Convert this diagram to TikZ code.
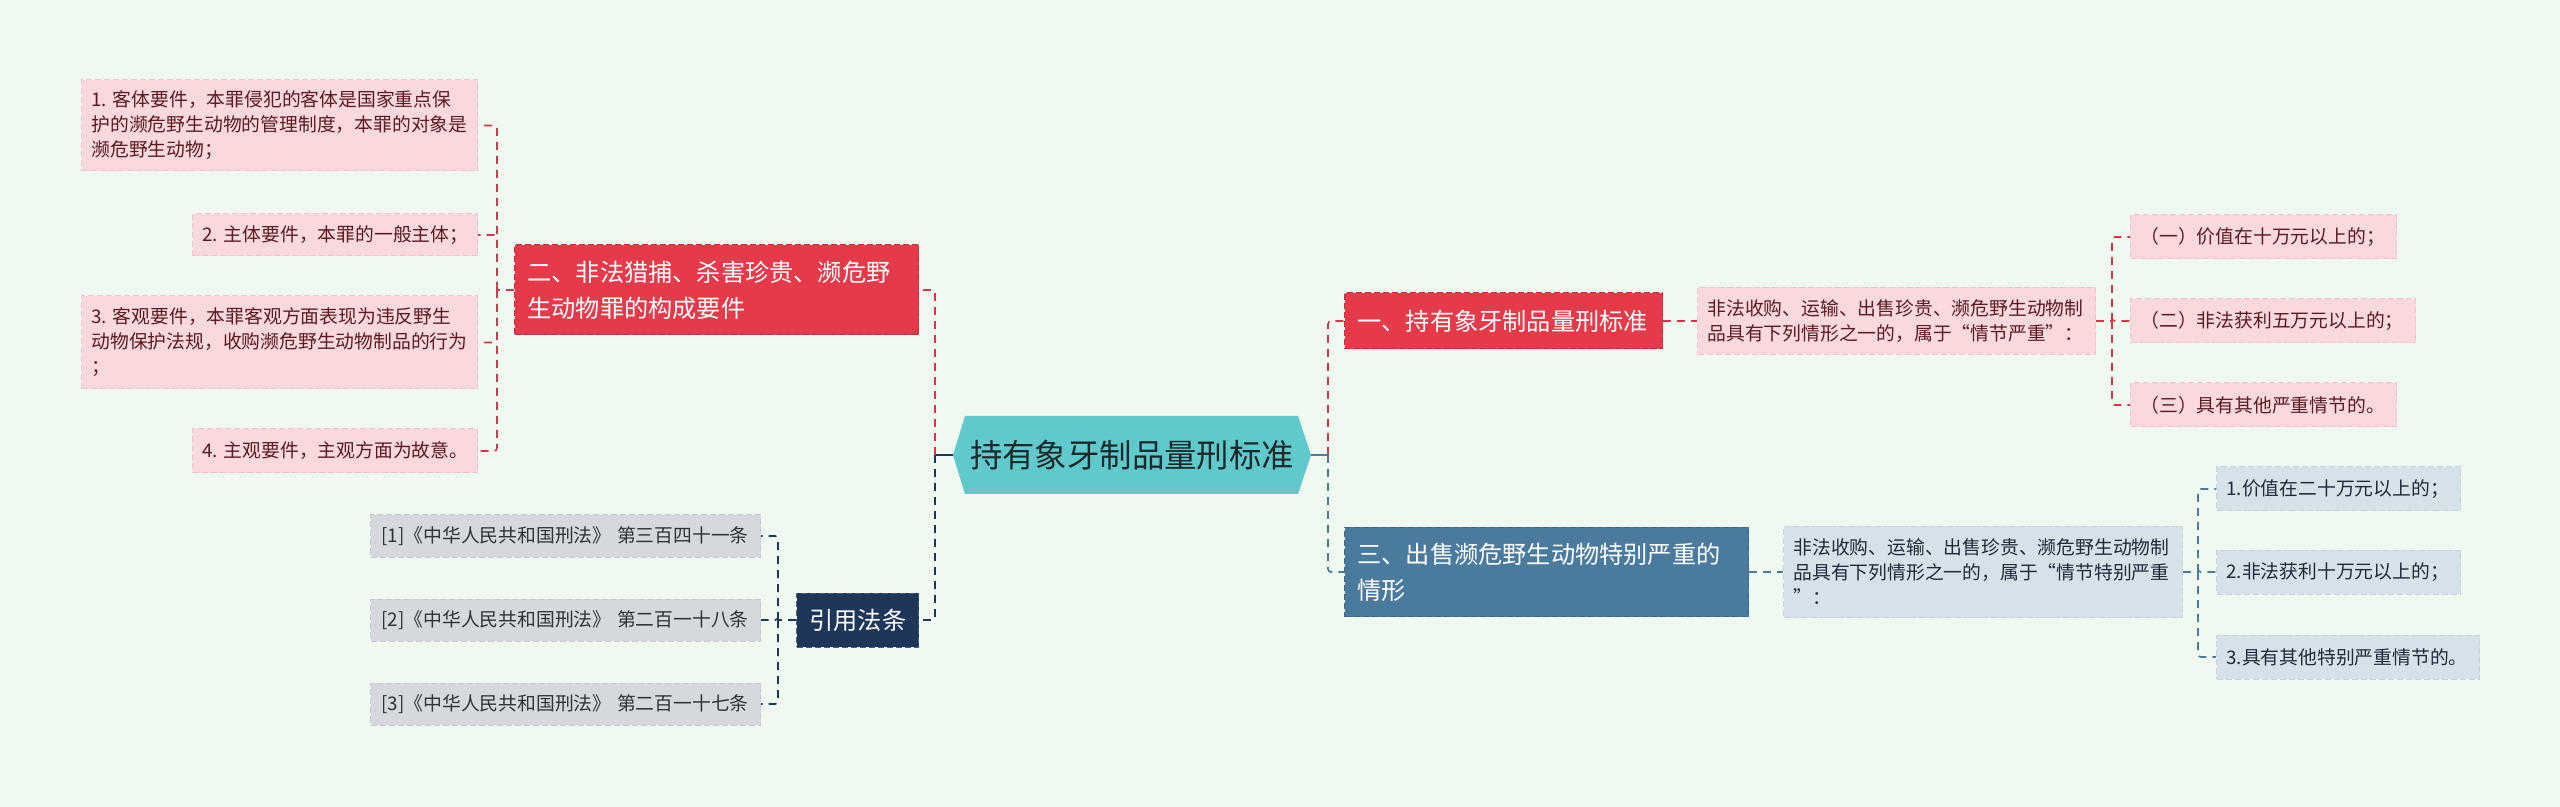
\documentclass[tikz,border=0pt]{standalone}
\usepackage{fontspec}
\newfontfamily\cjk{Noto Sans CJK SC}
\definecolor{bg}{HTML}{F0F9EF}
\definecolor{rootfill}{HTML}{60C9CB}
\definecolor{roottext}{HTML}{1C2A2E}
\definecolor{redfill}{HTML}{E43A4A}
\definecolor{redline}{HTML}{C92C3C}
\definecolor{pinkfill}{HTML}{FAD9DD}
\definecolor{pinkline}{HTML}{F2C4CA}
\definecolor{pinktext}{HTML}{5A1B22}
\definecolor{navyfill}{HTML}{1E3658}
\definecolor{grayfill}{HTML}{D5D8DD}
\definecolor{grayline}{HTML}{C6CACF}
\definecolor{graytext}{HTML}{2E3338}
\definecolor{bluefill}{HTML}{4A7B9D}
\definecolor{bluelight}{HTML}{D7E1E9}
\definecolor{bluelightline}{HTML}{C6D2DC}
\definecolor{bluetext}{HTML}{1E2C3A}
\definecolor{conred}{HTML}{D2384A}
\definecolor{connavy}{HTML}{1E3658}
\definecolor{conblue}{HTML}{4A7B9D}
\tikzset{
  base/.style={align=left, inner ysep=0pt, line width=0.5pt, dash pattern=on 3pt off 1.5pt},
  smalltext/.style={font=\cjk\fontsize{9.4}{12.5}\selectfont},
  bigtext/.style={font=\cjk\fontsize{12.1}{18}\selectfont},
  pinkleaf/.style={base, smalltext, fill=pinkfill, draw=pinkline, text=pinktext, inner xsep=5pt},
  grayleaf/.style={base, smalltext, fill=grayfill, draw=grayline, text=graytext, inner xsep=5.5pt},
  blueleaf/.style={base, smalltext, fill=bluelight, draw=bluelightline, text=bluetext, inner xsep=5pt},
  rednode/.style={base, bigtext, fill=redfill, draw=redline, text=white, inner xsep=6.5pt},
  navynode/.style={base, bigtext, fill=navyfill, draw=navyfill!80!white, text=white, inner xsep=6.5pt},
  bluenode/.style={base, bigtext, fill=bluefill, draw=bluefill!85!black, text=white, inner xsep=6.5pt},
  rootnode/.style={inner sep=0pt, minimum width=179pt, minimum height=39pt, text=roottext,
    font=\cjk\fontsize{16.2}{20}\selectfont,
    path picture={\fill[rootfill] (path picture bounding box.west)
      -- ([xshift=6pt]path picture bounding box.north west)
      -- ([xshift=-6.5pt]path picture bounding box.north east)
      -- (path picture bounding box.east)
      -- ([xshift=-6.5pt]path picture bounding box.south east)
      -- ([xshift=6pt]path picture bounding box.south west) -- cycle;}},
  con/.style={line width=0.8pt, dash pattern=on 4pt off 3pt, rounded corners=1.5pt},
  redcon/.style={con, draw=conred},
  navycon/.style={con, draw=connavy},
  bluecon/.style={con, draw=conblue},
  navysolid/.style={line width=1pt, draw=connavy},
  bluesolid/.style={line width=1pt, draw=conblue},
}
\begin{document}
\begin{tikzpicture}[x=0.5pt, y=-0.5pt]
\fill[bg] (0,0) rectangle (2560,807);
\useasboundingbox (0,0) rectangle (2560,807);

% root
\node[rootnode] (root) at (1132,455) {持有象牙制品量刑标准};

% left branch: 二
\node[rednode, anchor=west, text width=189pt, minimum height=45pt] (R2) at (514,290)
  {二、非法猎捕、杀害珍贵、濒危野\\生动物罪的构成要件};
\node[pinkleaf, anchor=east, text width=188pt, minimum height=45.5pt] (L1) at (478,125.5)
  {1.\kern0.3em客体要件，本罪侵犯的客体是国家重点保\\护的濒危野生动物的管理制度，本罪的对象是\\濒危野生动物；};
\node[pinkleaf, anchor=east, text width=132.5pt, minimum height=21pt] (L2) at (478,235)
  {2.\kern0.3em主体要件，本罪的一般主体；};
\node[pinkleaf, anchor=east, text width=188pt, minimum height=46.5pt] (L3) at (478,342.5)
  {3.\kern0.3em客观要件，本罪客观方面表现为违反野生\\动物保护法规，收购濒危野生动物制品的行为\\；};
\node[pinkleaf, anchor=east, text width=132.5pt, minimum height=22pt] (L4) at (478,451)
  {4.\kern0.3em主观要件，主观方面为故意。};

% left branch: 引用法条
\node[navynode, anchor=west, text width=48pt, minimum height=27pt] (cite) at (796,620) {引用法条};
\node[grayleaf, anchor=east, text width=184pt, minimum height=21pt] (C1) at (761,536)
  {[1]《中华人民共和国刑法》\kern0.3em第三百四十一条};
\node[grayleaf, anchor=east, text width=184pt, minimum height=21pt] (C2) at (761,620)
  {[2]《中华人民共和国刑法》\kern0.3em第二百一十八条};
\node[grayleaf, anchor=east, text width=184pt, minimum height=21pt] (C3) at (761,704)
  {[3]《中华人民共和国刑法》\kern0.3em第二百一十七条};

% right branch: 一
\node[rednode, anchor=west, text width=146pt, minimum height=28pt] (R1) at (1344,321)
  {一、持有象牙制品量刑标准};
\node[pinkleaf, anchor=west, text width=189pt, minimum height=33.5pt] (P0) at (1697,321)
  {非法收购、运输、出售珍贵、濒危野生动物制\\品具有下列情形之一的，属于“情节严重”：};
\node[pinkleaf, anchor=west, text width=123pt, minimum height=22pt] (P1) at (2130,237)
  {（一）价值在十万元以上的；};
\node[pinkleaf, anchor=west, text width=132.5pt, minimum height=22pt] (P2) at (2130,321)
  {（二）非法获利五万元以上的；};
\node[pinkleaf, anchor=west, text width=123pt, minimum height=22pt] (P3) at (2130,405)
  {（三）具有其他严重情节的。};

% right branch: 三
\node[bluenode, anchor=west, text width=189pt, minimum height=44.5pt] (B3) at (1344,572)
  {三、出售濒危野生动物特别严重的\\情形};
\node[blueleaf, anchor=west, text width=189.5pt, minimum height=45.5pt] (G0) at (1783,572)
  {非法收购、运输、出售珍贵、濒危野生动物制\\品具有下列情形之一的，属于“情节特别严重\\”：};
\node[blueleaf, anchor=west, text width=112pt, minimum height=22pt] (G1) at (2216,489)
  {1.价值在二十万元以上的；};
\node[blueleaf, anchor=west, text width=112pt, minimum height=22pt] (G2) at (2216,572)
  {2.非法获利十万元以上的；};
\node[blueleaf, anchor=west, text width=121.5pt, minimum height=22pt] (G3) at (2216,657)
  {3.具有其他特别严重情节的。};

% junctions
\coordinate (jRL) at (935,455);
\coordinate (jRR) at (1328,455);
\coordinate (jA) at (497,290);
\coordinate (jB) at (778,620);
\coordinate (jC) at (2112,321);
\coordinate (jD) at (2198,572);

% connectors
\draw[navysolid] (root.west) -- (jRL);
\draw[redcon] (jRL) |- (R2.east);
\draw[navycon] (jRL) |- (cite.east);
\draw[bluesolid] (root.east) -- (jRR);
\draw[redcon] (jRR) |- (R1.west);
\draw[bluecon] (jRR) |- (B3.west);

\draw[redcon] (R2.west) -- (jA);
\foreach \n in {L1,L2,L3,L4} \draw[redcon] (jA) |- (\n.east);

\draw[navycon] (cite.west) -- (jB);
\foreach \n in {C1,C2,C3} \draw[navycon] (jB) |- (\n.east);

\draw[redcon] (R1.east) -- (P0.west);
\draw[redcon] (P0.east) -- (jC);
\foreach \n in {P1,P2,P3} \draw[redcon] (jC) |- (\n.west);

\draw[bluecon] (B3.east) -- (G0.west);
\draw[bluecon] (G0.east) -- (jD);
\foreach \n in {G1,G2,G3} \draw[bluecon] (jD) |- (\n.west);
\end{tikzpicture}
\end{document}
